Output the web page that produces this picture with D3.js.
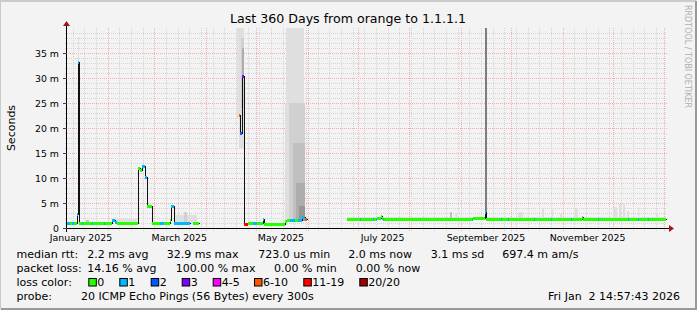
<!DOCTYPE html>
<html>
<head>
<meta charset="utf-8">
<script src="https://cdn.jsdelivr.net/npm/d3@7"></script>
<style>
html, body { margin: 0; padding: 0; background: #f3f3f3; }
svg { display: block; font-family: "DejaVu Sans", sans-serif; }
text { white-space: pre; }
</style>
</head>
<body>
<svg id="chart" width="697" height="310"></svg>
<script>
// --- data ---
const title = "Last 360 Days from orange to 1.1.1.1";
const yLabel = "Seconds";
const endTime = Date.UTC(2026, 0, 2, 14, 57, 43);
const spanDays = 360;
const yMaxMs = 40;
const yTickMs = [0, 5, 10, 15, 20, 25, 30, 35];

const lossLabels = ["0", "1", "2", "3", "4-5", "6-10", "11-19", "20/20"];
const lossColors = ["#26ff00", "#00b8ff", "#0059ff", "#7e00ff", "#ff00ff", "#ff5500", "#ff0000", "#a00000"];

// median rtt: [fromDay, toDay, ms, loss index] (days after graph start)
const medianSegs = [
  [0, 1.8, 1.1, 1], [1.8, 3, 1.1, 0], [3, 4.2, 1.1, 1], [4.2, 5.7, 1.1, 0],
  [5.7, 6.6, 2.9, 1], [6.6, 7.2, 33.3, 1],
  [7.2, 9, 1.1, 0], [9, 9.6, 1.1, 1], [9.6, 15, 1.1, 0], [15, 15.6, 1.1, 1],
  [15.6, 22, 1.1, 0], [22, 22.6, 1.1, 1], [22.6, 27, 1.1, 0],
  [27, 28.8, 1.6, 1], [28.8, 30, 1.2, 1], [30, 42.8, 1.1, 0],
  [42.8, 43.8, 12.1, 0], [43.8, 45, 11.6, 0], [45, 46.5, 12.4, 1],
  [46.5, 47.7, 10.3, 1], [47.7, 51, 4.3, 0],
  [51, 56, 1.1, 0], [56, 58, 1.1, 1], [58, 61.8, 1.1, 0],
  [61.8, 62.4, 1.7, 0], [62.4, 63.9, 4.3, 1], [63.9, 73.8, 1.1, 1],
  [75.6, 79.2, 1.1, 0],
  [102.9, 103.8, 22.7, 5], [103.8, 104.7, 19, 2], [104.7, 106, 30.3, 3],
  [106, 108.6, 0.9, 6], [108.6, 110, 1.0, 0], [110, 111.6, 1.1, 0],
  [111.6, 114, 1.1, 1], [114, 117.3, 1.1, 0], [117.3, 118.2, 1.8, 1],
  [118.2, 130.8, 0.75, 0], [130.8, 132, 1.4, 0], [132, 133.8, 1.6, 0],
  [133.8, 137, 1.6, 1], [137, 138.5, 1.6, 0], [138.5, 141, 1.7, 1],
  [141, 142.8, 2.3, 1], [142.8, 143.8, 1.9, 5],
  [167.8, 176, 1.9, 0], [176, 176.6, 1.9, 1], [176.6, 183.4, 1.9, 0],
  [183.4, 184, 1.9, 1], [184, 185.2, 1.9, 0], [185.2, 185.8, 1.9, 1],
  [185.8, 188.2, 2.0, 0], [188.2, 188.8, 2.4, 0], [188.8, 189.4, 2.0, 0],
  [189.4, 190, 1.9, 1], [190, 210, 1.9, 0], [210, 230, 1.8, 0],
  [230, 243.2, 1.9, 0], [243.2, 243.8, 1.9, 1], [243.8, 251, 2.0, 0],
  [251, 251.6, 3.3, 1], [251.6, 260.6, 1.9, 0], [260.6, 261.2, 1.8, 1],
  [261.2, 264.4, 1.9, 0], [264.4, 265, 1.8, 1], [265, 280.4, 1.9, 0],
  [280.4, 281, 1.9, 1], [281, 290.2, 1.9, 0], [290.2, 290.8, 1.9, 1],
  [290.8, 302.2, 1.9, 0], [302.2, 302.8, 1.9, 1], [302.8, 308.8, 1.9, 0],
  [308.8, 309.4, 2.2, 0], [309.4, 318.4, 1.9, 0], [318.4, 319, 1.9, 1],
  [319, 336.4, 1.9, 0], [336.4, 337, 1.8, 1], [337, 342.4, 1.9, 0],
  [342.4, 343, 1.8, 1], [343, 348.4, 1.9, 0], [348.4, 349, 1.8, 1],
  [349, 359.4, 1.8, 0]
];

// smoke: [fromDay, toDay, lowMs, highMs, shade index]
const smokeShades = ["#dfdfdf", "#d0d0d0", "#c0c0c0", "#adadad", "#969696", "#7c7c7c"];
const smoke = [
  [6.6, 7.2, 3, 38.3, 0],
  [11.4, 13.2, 1.1, 1.6, 2],
  [28.8, 41.8, 1.1, 1.8, 0],
  [64.2, 78, 1.1, 2.6, 0], [70.2, 72, 1.1, 3.3, 1],
  [102.0, 103.2, 22, 45, 0], [103.2, 106.2, 16, 45, 0],
  [104.4, 106.2, 24, 38, 1], [105, 106.2, 30, 36, 3],
  [130.8, 131.6, 1.2, 25, 0], [131.6, 142.2, 1.5, 45, 0],
  [133.2, 142.8, 1.5, 25, 1], [135.6, 142.8, 1.5, 17, 2],
  [137.4, 142.8, 1.5, 9, 3], [139.2, 142.8, 1.5, 4.5, 4],
  [167.8, 359.4, 1.6, 2.3, 0],
  [229.8, 230.7, 1.9, 3.3, 2], [232.8, 233.7, 1.9, 3.1, 0],
  [236.2, 237.1, 1.9, 5.5, 0], [250.8, 252.2, 3.3, 45, 5],
  [270.6, 273.6, 1.9, 3.3, 0], [285, 285.9, 1.9, 3.9, 0],
  [290.8, 291.7, 1.9, 3.8, 0], [295.8, 296.7, 1.9, 2.8, 0],
  [304.8, 306.6, 1.9, 4.1, 0], [327.6, 330, 1.9, 4.2, 0],
  [331.2, 332.1, 1.9, 4.9, 0], [333.6, 334.5, 1.9, 5.0, 0],
  [336, 336.9, 1.9, 3.5, 0], [342.4, 343.3, 1.9, 3.8, 0],
  [353.4, 354.3, 1.9, 3.3, 0]
];

const rttStats = ["2.2 ms avg", "32.9 ms max", "723.0 us min", "2.0 ms now", "3.1 ms sd", "697.4 m am/s"];
const lossStats = ["14.16 % avg", "100.00 % max", "0.00 % min", "0.00 % now"];
const probeText = "20 ICMP Echo Pings (56 Bytes) every 300s";
const stampText = "Fri Jan  2 14:57:43 2026";
const watermark = "RRDTOOL / TOBI OETIKER";

// --- layout ---
const W = 697, H = 310;
const plot = { left: 67, top: 28, width: 600, height: 200 };
const bottom = plot.top + plot.height;

const svg = d3.select("#chart");

const start = new Date(endTime - spanDays * 864e5);
const end = new Date(endTime);
const at = d => new Date(start.getTime() + d * 864e5);

const x = d3.scaleUtc().domain([start, end]).range([plot.left, plot.left + plot.width]);
const y = d3.scaleLinear().domain([0, yMaxMs]).range([bottom, plot.top]);

// frame shading
svg.append("rect").attr("width", W).attr("height", H).attr("fill", "#f3f3f3");
svg.append("path").attr("d", `M0,${H - 1}V1H${W - 1}`).attr("stroke", "#cbcbcb").attr("stroke-width", 2).attr("fill", "none");
svg.append("path").attr("d", `M1,${H - 1}H${W - 1}V1`).attr("stroke", "#999").attr("stroke-width", 2).attr("fill", "none");

// --- grid ---
const grid = svg.append("g").attr("shape-rendering", "crispEdges");
const months = d3.utcMonth.range(start, end);
const weeks = d3.utcSaturday.range(start, end)
  .filter(w => !months.some(m => Math.abs(m - w) < 864e5));
const px = v => Math.round(v) + 0.5;

grid.selectAll(".vmin").data(weeks).join("line")
  .attr("x1", d => px(x(d))).attr("x2", d => px(x(d)))
  .attr("y1", plot.top).attr("y2", bottom + 3)
  .attr("stroke", "#d4d4d4").attr("stroke-dasharray", "1,1");

const minorMs = d3.range(1, yMaxMs).filter(v => v % 5 !== 0);
grid.selectAll(".hmin").data(minorMs).join("line")
  .attr("x1", plot.left - 2).attr("x2", plot.left + plot.width)
  .attr("y1", d => px(y(d))).attr("y2", d => px(y(d)))
  .attr("stroke", "#d4d4d4").attr("stroke-dasharray", "1,1");

grid.selectAll(".vmaj").data(months).join("line")
  .attr("x1", d => px(x(d))).attr("x2", d => px(x(d)))
  .attr("y1", plot.top).attr("y2", bottom + 3)
  .attr("stroke", "#f4acac").attr("stroke-dasharray", "1,1");

grid.selectAll(".hmaj").data(yTickMs.filter(v => v > 0)).join("line")
  .attr("x1", plot.left - 3).attr("x2", plot.left + plot.width)
  .attr("y1", d => px(y(d))).attr("y2", d => px(y(d)))
  .attr("stroke", "#f4acac").attr("stroke-dasharray", "1,1");

// --- smoke & median ---
svg.append("clipPath").attr("id", "clip").append("rect")
  .attr("x", plot.left).attr("y", plot.top).attr("width", plot.width).attr("height", plot.height);
const area = svg.append("g").attr("clip-path", "url(#clip)").attr("shape-rendering", "crispEdges");

area.selectAll(".smoke").data(smoke).join("rect")
  .attr("x", d => x(at(d[0])))
  .attr("width", d => Math.max(1, x(at(d[1])) - x(at(d[0]))))
  .attr("y", d => y(d[3]))
  .attr("height", d => y(d[2]) - y(d[3]))
  .attr("fill", d => smokeShades[d[4]]);

// split the median into runs where the data is continuous
const runs = [];
medianSegs.forEach(s => {
  const last = runs[runs.length - 1];
  if (last && Math.abs(last[last.length - 1][1] - s[0]) < 0.01) last.push(s);
  else runs.push([s]);
});
const stepLine = d3.line().x(p => px(x(at(p[0])))).y(p => px(y(p[1]))).curve(d3.curveStepAfter);
area.selectAll(".median").data(runs).join("path")
  .attr("d", r => stepLine(r.map(s => [s[0], s[2]]).concat([[r[r.length - 1][1], r[r.length - 1][2]]])))
  .attr("fill", "none").attr("stroke", "#111").attr("stroke-width", 1);

area.selectAll(".loss").data(medianSegs).join("rect")
  .attr("x", d => x(at(d[0])))
  .attr("width", d => Math.max(1, x(at(d[1])) - x(at(d[0]))))
  .attr("y", d => Math.round(y(d[2])) - 1)
  .attr("height", 3)
  .attr("fill", d => lossColors[d[3]]);

// --- axes ---
const axes = svg.append("g").attr("shape-rendering", "crispEdges");
axes.append("line").attr("x1", plot.left - 4).attr("x2", plot.left + plot.width + 4)
  .attr("y1", bottom + 0.5).attr("y2", bottom + 0.5).attr("stroke", "#000");
axes.append("line").attr("x1", plot.left - 0.5).attr("x2", plot.left - 0.5)
  .attr("y1", bottom + 4).attr("y2", plot.top - 4).attr("stroke", "#000");
axes.selectAll(".ytick").data(yTickMs).join("line")
  .attr("x1", plot.left - 4).attr("x2", plot.left)
  .attr("y1", d => px(y(d))).attr("y2", d => px(y(d)))
  .attr("stroke", "#444");
svg.append("path").attr("d", `M${plot.left + plot.width + 2},${bottom - 3}L${plot.left + plot.width + 7},${bottom + 0.5}L${plot.left + plot.width + 2},${bottom + 4}Z`)
  .attr("fill", "#a01818");
svg.append("path").attr("d", `M${plot.left - 4},${plot.top - 2}L${plot.left - 0.5},${plot.top - 7}L${plot.left + 3},${plot.top - 2}Z`)
  .attr("fill", "#a01818");

svg.selectAll(".ylab").data(yTickMs).join("text")
  .attr("x", plot.left - 8).attr("y", d => y(d) + 3.5)
  .attr("text-anchor", "end").attr("font-size", 9.4).attr("fill", "#000")
  .text(d => d === 0 ? "0" : `${d} m`);

// month labels every two months, centred half a month in
const labelMonths = d3.utcMonth.range(d3.utcMonth.floor(start), end)
  .filter(m => m.getUTCMonth() % 2 === 0)
  .filter(m => x(d3.utcDay.offset(m, 15)) < plot.left + plot.width);
const fmt = d3.utcFormat("%B %Y");
svg.selectAll(".xlab").data(labelMonths).join("text")
  .attr("x", d => x(d3.utcDay.offset(d, 15))).attr("y", bottom + 13)
  .attr("text-anchor", "middle").attr("font-size", 9.4).attr("fill", "#000")
  .text(d => fmt(d));

// --- titles ---
svg.append("text").attr("x", 348).attr("y", 23).attr("text-anchor", "middle")
  .attr("font-size", 12.6).attr("fill", "#000").text(title);
svg.append("text").attr("transform", `translate(15,${plot.top + plot.height / 2}) rotate(-90)`)
  .attr("text-anchor", "middle").attr("font-size", 11).attr("fill", "#000").text(yLabel);
svg.append("text").attr("transform", "translate(685,5) rotate(90)")
  .attr("font-size", 8).attr("fill", "#b0b0b0").text(watermark);

// --- legend ---
const leg = svg.append("g").attr("font-size", 11).attr("fill", "#000");
const rowY = [258, 272, 286, 300];
const rttX = [87.3, 166.7, 258.3, 348.3, 430.7, 502.3];
const lossX = [87.3, 175.7, 274, 355.7];
const boxX = [88.3, 119.3, 150.7, 181.7, 212.7, 254, 303.3, 359.3];

leg.append("text").attr("x", 16.5).attr("y", rowY[0]).text("median rtt:");
leg.selectAll(".rtt").data(rttStats).join("text")
  .attr("x", (d, i) => rttX[i]).attr("y", rowY[0]).text(d => d);
leg.append("text").attr("x", 16.5).attr("y", rowY[1]).text("packet loss:");
leg.selectAll(".pl").data(lossStats).join("text")
  .attr("x", (d, i) => lossX[i]).attr("y", rowY[1]).text(d => d);
leg.append("text").attr("x", 16.5).attr("y", rowY[2]).text("loss color:");
const items = leg.selectAll(".lc").data(lossLabels).join("g")
  .attr("transform", (d, i) => `translate(${boxX[i]},${rowY[2] - 8})`);
items.append("rect").attr("x", 0.5).attr("y", 0.5).attr("width", 7.5).attr("height", 7.5)
  .attr("fill", (d, i) => lossColors[i]).attr("stroke", "#000").attr("stroke-width", 1);
items.append("text").attr("x", 9).attr("y", 8).text(d => d);
leg.append("text").attr("x", 16.5).attr("y", rowY[3]).text("probe:");
leg.append("text").attr("x", 81).attr("y", rowY[3]).text(probeText);
leg.append("text").attr("x", 680).attr("y", rowY[3]).attr("text-anchor", "end").text(stampText);
</script>
</body>
</html>
